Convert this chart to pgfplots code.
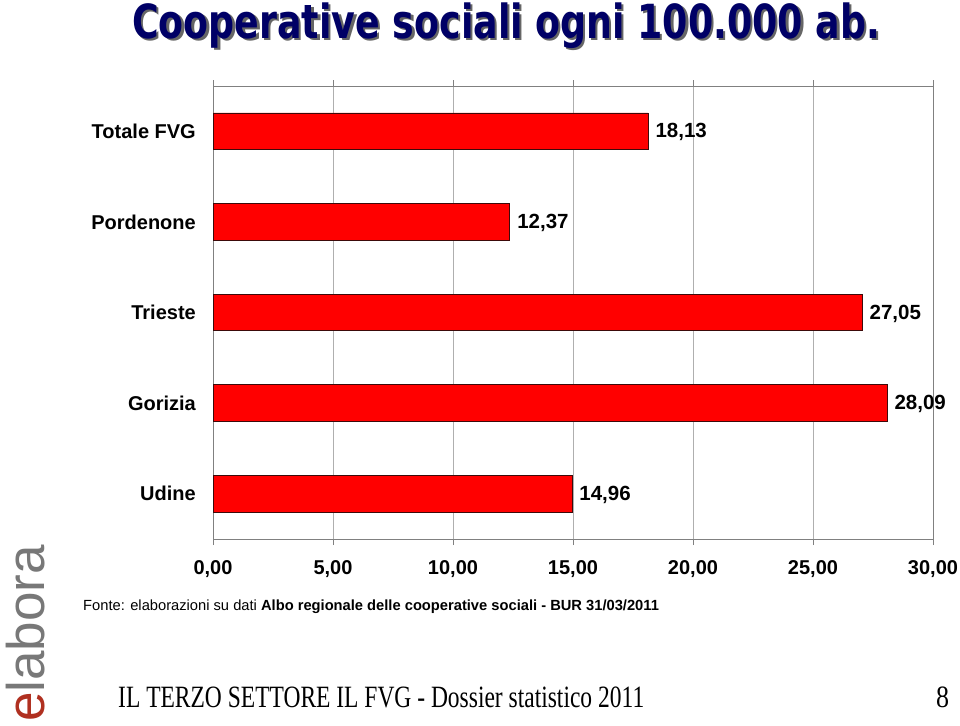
\documentclass[border=0pt]{standalone}
\usepackage{fontspec}
\setmainfont{Liberation Sans}
\newfontfamily\titlefont{DejaVu Sans}
\newfontfamily\footfont{Liberation Serif}
\usepackage{graphicx}
\usepackage{pgfplots}
\pgfplotsset{compat=1.18}
\definecolor{navy}{RGB}{0,0,102}
\definecolor{barred}{RGB}{255,0,0}
\definecolor{bardraw}{RGB}{60,10,10}
\definecolor{logored}{RGB}{176,48,32}
\definecolor{logogray}{RGB}{120,120,120}
\definecolor{gridgray}{RGB}{175,175,175}
\definecolor{axgray}{RGB}{128,128,128}
\newcommand{\titletext}{\resizebox{748bp}{\height}{\titlefont\bfseries\fontsize{47bp}{52bp}\selectfont Cooperative sociali ogni 100.000 ab.}}
\begin{document}
\begin{tikzpicture}
\useasboundingbox[fill=white] (0bp,0bp) rectangle (960bp,-726bp);
\begin{axis}[
  at={(213bp,-539bp)}, anchor=south west,
  width=720bp, height=453bp, scale only axis,
  xbar, bar width=36.7bp,
  xmin=0, xmax=30, ymin=-0.5, ymax=4.5, enlargelimits=false,
  clip=false,
  axis line style={axgray},
  xtick={0,5,...,30},
  xmajorgrids, grid style={gridgray, line width=0.8bp},
  ytick={0,1,2,3,4},
  yticklabels={Udine,Gorizia,Trieste,Pordenone,Totale FVG},
  ytick style={draw=none},
  extra y ticks={0.5,1.5,2.5,3.5},
  extra y tick labels={},
  extra y tick style={grid=none, tick style={draw=axgray}},
  tick align=outside,
  major tick length=6bp,
  xtick style={draw=axgray},
  xticklabel style={font=\fontsize{20bp}{23bp}\selectfont\bfseries, inner sep=0pt, yshift=-15bp,
     /pgf/number format/.cd, fixed, fixed zerofill, precision=2, use comma, assume math mode=true},
  yticklabel style={font=\fontsize{20bp}{23bp}\selectfont\bfseries, inner sep=0pt, xshift=-11bp},
  nodes near coords,
  nodes near coords align={horizontal},
  every node near coord/.append style={font=\fontsize{20.5bp}{23bp}\selectfont\bfseries, anchor=west, inner sep=0pt, xshift=7bp, yshift=-1bp, black,
     /pgf/number format/.cd, fixed, fixed zerofill, precision=2, use comma, assume math mode=true},
]
\addplot[fill=barred, draw=bardraw, line width=0.8bp] coordinates {(14.96,0) (28.09,1) (27.05,2) (12.37,3) (18.13,4)};
\end{axis}
% title with shadow (one text node)
\node[anchor=base west, inner sep=0pt] at (132bp,-38bp) {\makebox[0pt][l]{\hspace*{2.2bp}\raisebox{-2.2bp}{\textcolor{black!60}{\titletext}}}\textcolor{navy}{\titletext}};
% source
\node[anchor=base west, inner sep=0pt] at (83bp,-610bp) {\fontsize{14.7bp}{17bp}\selectfont Fonte: elaborazioni su dati \textbf{Albo regionale delle cooperative sociali - BUR 31/03/2011}};
% footer
\node[anchor=base west, inner sep=0pt] at (118bp,-707bp) {\resizebox{526bp}{\height}{\footfont\fontsize{31bp}{34bp}\selectfont IL TERZO SETTORE IL FVG - Dossier statistico 2011}};
\node[anchor=base west, inner sep=0pt] at (936bp,-707bp) {\resizebox{13bp}{\height}{\footfont\fontsize{31bp}{34bp}\selectfont 8}};
% logo
\node[anchor=base west, inner sep=0pt, rotate=90] at (44bp,-722bp) {\fontsize{53bp}{60bp}\selectfont\textcolor{logored}{e}\textcolor{logogray}{labora}};
\end{tikzpicture}
\end{document}
